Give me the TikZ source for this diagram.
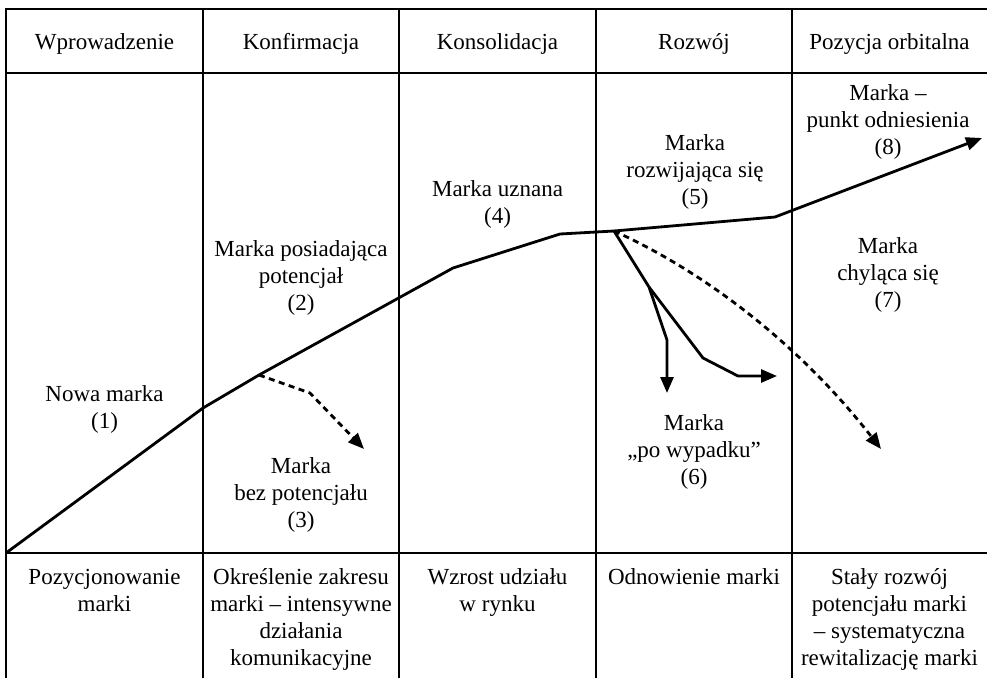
\documentclass[tikz,border=0pt]{standalone}
\usepackage{fontspec}
\setmainfont{Liberation Serif}
\usetikzlibrary{arrows.meta}
\newcommand{\lblfont}{\fontsize{23}{27}\selectfont}
\begin{document}
\begin{tikzpicture}[x=1pt,y=-1pt,
  gridline/.style={line width=1.7pt},
  lbl/.style={align=center, anchor=north, inner sep=0pt, yshift=18.9pt, font=\lblfont},
  curve/.style={line width=2.8pt, line join=miter},
  tipped/.style={-{Triangle[length=16pt,width=13pt]}},
  dashline/.style={curve, dash pattern=on 6pt off 4.5pt},
]
\useasboundingbox (0,0) rectangle (987,678);
% table
\draw[gridline] (987,9) -- (6,9) -- (6,678);
\draw[gridline] (6,73) -- (987,73);
\draw[gridline] (6,553) -- (987,553);
\foreach \x in {203,399,596,792} \draw[gridline] (\x,9) -- (\x,678);
% headers
\node[lbl] (h1) at (104.5,49) {\strut Wprowadzenie};
\node[lbl] (h2) at (301,49) {\strut Konfirmacja};
\node[lbl] (h3) at (497.5,49) {\strut Konsolidacja};
\node[lbl] (h4) at (694,49) {\strut Rozwój};
\node[lbl] (h5) at (889.5,49) {\strut Pozycja orbitalna};
% graph labels
\node[lbl] (n1) at (104.5,401) {\strut Nowa marka\\(1)};
\node[lbl] (n2) at (301,256) {\strut Marka posiadająca\\potencjał\\(2)};
\node[lbl] (n3) at (301,473) {\strut Marka\\bez potencjału\\(3)};
\node[lbl] (n4) at (497.5,196) {\strut Marka uznana\\(4)};
\node[lbl] (n5) at (695,150) {\strut Marka\\rozwijająca się\\(5)};
\node[lbl] (n6) at (694,430) {\strut Marka\\„po wypadku”\\(6)};
\node[lbl] (n7) at (888,253) {\strut Marka\\chyląca się\\(7)};
\node[lbl] (n8) at (888,100) {\strut Marka –\\punkt odniesienia\\(8)};
% bottom row
\node[lbl] (b1) at (104.5,584) {\strut Pozycjonowanie\\marki};
\node[lbl] (b2) at (301,584) {\strut Określenie zakresu\\marki – intensywne\\działania\\komunikacyjne};
\node[lbl] (b3) at (497.5,584) {\strut Wzrost udziału\\w rynku};
\node[lbl] (b4) at (694,584) {\strut Odnowienie marki};
\node[lbl] (b5) at (889.5,584) {\strut Stały rozwój\\potencjału marki\\– systematyczna\\rewitalizację marki};
% main curve
\coordinate (p0) at (6,553);
\coordinate (p1) at (203,408);
\coordinate (p2) at (259,375);
\coordinate (p3) at (453,268);
\coordinate (p4) at (560,234);
\coordinate (p5) at (614,231);
\coordinate (p6) at (775,217);
\coordinate (p7) at (982,138);
\draw[curve,tipped] (p0) -- (p1) -- (p2) -- (p3) -- (p4) -- (p5) -- (p6) -- (p7);
% branch in Konfirmacja
\coordinate (d1) at (310,393);
\coordinate (d2) at (364,449);
\draw[dashline,tipped] (p2) -- (d1) -- (d2);
% branches in Rozwoj
\coordinate (s1) at (649,287);
\coordinate (s2) at (667,340);
\coordinate (s3) at (667,393);
\coordinate (s4) at (703,358);
\coordinate (s5) at (738,376);
\coordinate (s6) at (777,376);
\draw[curve] (p5) -- (s1);
\draw[curve,tipped] (s1) -- (s2) -- (s3);
\draw[curve,tipped] (s1) -- (s4) -- (s5) -- (s6);
\coordinate (e1) at (881,449);
\draw[dashline,tipped] (p5) .. controls (705,272) and (800,345) .. (e1);
\end{tikzpicture}
\end{document}
